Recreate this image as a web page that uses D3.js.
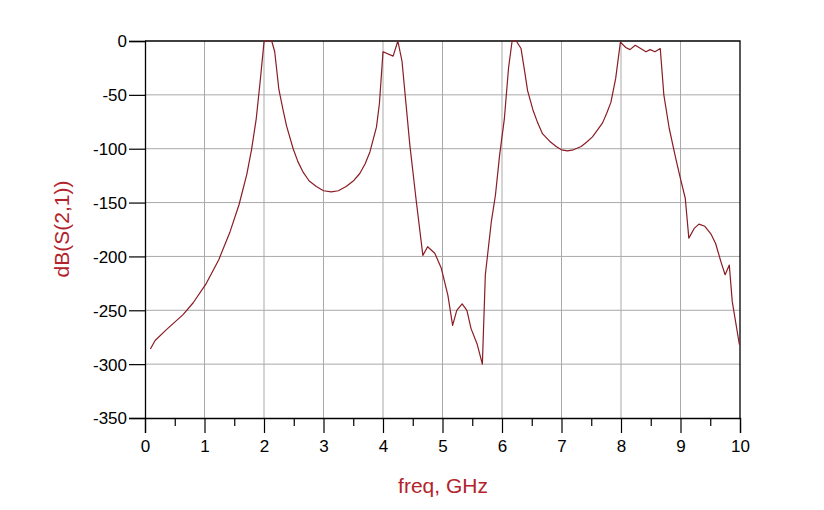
<!DOCTYPE html>
<html>
<head>
<meta charset="utf-8">
<script src="https://cdn.jsdelivr.net/npm/d3@7"></script>
<style>
  body { margin: 0; background: #fff; }
  svg text { font-family: Arial, "Liberation Sans", sans-serif; }
</style>
</head>
<body>
<div id="chart"></div>
<script>
// freq in GHz, dB(S(2,1))
var freq = [0.09, 0.17, 0.36, 0.64, 0.81, 1.02, 1.24, 1.43, 1.58, 1.71, 1.79, 1.87, 1.94, 2.00, 2.03, 2.13, 2.18,
  2.25, 2.32, 2.38, 2.49, 2.57, 2.66, 2.76, 2.88, 3.0, 3.13, 3.25, 3.38, 3.5, 3.61, 3.7, 3.78, 3.89, 3.94,
  4.00, 4.17, 4.25, 4.32, 4.45, 4.56, 4.67, 4.75, 4.87, 4.98, 5.09, 5.17, 5.24, 5.33, 5.41, 5.48, 5.58, 5.67,
  5.72, 5.82, 5.89, 5.96, 6.04, 6.11, 6.17, 6.24, 6.32, 6.38, 6.43, 6.52, 6.6, 6.68, 6.8, 6.91, 7.0, 7.10,
  7.2, 7.33, 7.42, 7.52, 7.6, 7.69, 7.76, 7.83, 7.91, 7.99, 8.08, 8.15, 8.24, 8.33, 8.42, 8.49, 8.57, 8.66,
  8.72, 8.81, 8.92, 9.00, 9.08, 9.14, 9.23, 9.31, 9.41, 9.51, 9.59, 9.68, 9.75, 9.82, 9.87, 9.99];
var s21 = [-286, -278, -268, -254, -243, -226, -203, -177, -152, -124, -101, -72, -35, -1, 0, 0, -10,
  -45, -64, -79, -100, -112, -122, -130, -135, -139, -140, -139, -135, -130, -123, -114, -103, -80, -58,
  -10, -14, 0, -19, -96, -149, -199, -191, -197, -211, -236, -264, -250, -244, -250, -267, -281, -300,
  -217, -168, -143, -106, -72, -25, 0, 0, -7, -28, -46, -64, -76, -86, -93, -98, -101, -102,
  -101, -98, -94, -89, -83, -76, -67, -57, -35, -1, -6, -8, -4, -7, -10, -8, -10, -7,
  -50, -81, -109, -128, -146, -183, -174, -170, -172, -179, -188, -205, -217, -208, -242, -282];

var xTicks = [0, 1, 2, 3, 4, 5, 6, 7, 8, 9, 10];
var xMinor = [0.5, 1.5, 2.5, 3.5, 4.5, 5.5, 6.5, 7.5, 8.5, 9.5];
var yTicks = [0, -50, -100, -150, -200, -250, -300, -350];

var W = 824, H = 510;
var mLeft = 145, mRight = 740, mTop = 41, mBottom = 418;

var svg = d3.select("#chart").append("svg")
  .attr("width", W)
  .attr("height", H);

var x = d3.scaleLinear().domain([0, 10]).range([mLeft, mRight]);
var y = d3.scaleLinear().domain([-350, 0]).range([mBottom, mTop]);

// grid
svg.append("g")
  .selectAll("line")
  .data(xTicks.slice(1, -1))
  .enter().append("line")
  .attr("x1", d => x(d)).attr("x2", d => x(d))
  .attr("y1", mTop).attr("y2", mBottom)
  .attr("stroke", "#a9a9a9").attr("stroke-width", 1);
svg.append("g")
  .selectAll("line")
  .data(yTicks.slice(1, -1))
  .enter().append("line")
  .attr("x1", mLeft).attr("x2", mRight)
  .attr("y1", d => y(d)).attr("y2", d => y(d))
  .attr("stroke", "#a9a9a9").attr("stroke-width", 1);

// frame (top and right)
svg.append("path")
  .attr("d", "M" + mLeft + "," + mTop + "H" + mRight + "V" + mBottom)
  .attr("fill", "none").attr("stroke", "#000").attr("stroke-width", 1.3);

// plain hyphen minus like the original
var fmt = d => String(d);

// x axis
var xAxis = svg.append("g")
  .attr("transform", "translate(0," + mBottom + ")")
  .call(d3.axisBottom(x).tickValues(xTicks).tickFormat(fmt).tickSize(15).tickPadding(6));
svg.append("g")
  .attr("transform", "translate(0," + mBottom + ")")
  .call(d3.axisBottom(x).tickValues(xMinor).tickFormat("").tickSize(8))
  .call(g => g.select(".domain").remove());

// y axis
var yAxis = svg.append("g")
  .attr("transform", "translate(" + mLeft + ",0)")
  .call(d3.axisLeft(y).tickValues(yTicks).tickFormat(fmt).tickSize(16).tickPadding(2));

svg.selectAll(".domain").attr("stroke", "#000").attr("stroke-width", 1.3);
svg.selectAll(".tick line").attr("stroke", "#000").attr("stroke-width", 1.2);
svg.selectAll(".tick text").attr("fill", "#000").style("font-size", "17px");
xAxis.selectAll(".tick text").attr("dy", "0.75em");
yAxis.selectAll(".tick text").attr("dy", "0.35em");

// trace
var line = d3.line()
  .x((d, i) => x(freq[i]))
  .y(d => y(d));
svg.append("path")
  .datum(s21)
  .attr("fill", "none")
  .attr("stroke", "#8a1c24")
  .attr("stroke-width", 1.2)
  .attr("stroke-linejoin", "round")
  .attr("d", line);

// axis titles
svg.append("text")
  .attr("x", 443).attr("y", 493)
  .attr("text-anchor", "middle")
  .attr("fill", "#b3232b")
  .style("font-size", "21px")
  .text("freq, GHz");
svg.append("text")
  .attr("transform", "translate(69,229) rotate(-90)")
  .attr("text-anchor", "middle")
  .attr("fill", "#b3232b")
  .style("font-size", "21px")
  .text("dB(S(2,1))");
</script>
</body>
</html>
